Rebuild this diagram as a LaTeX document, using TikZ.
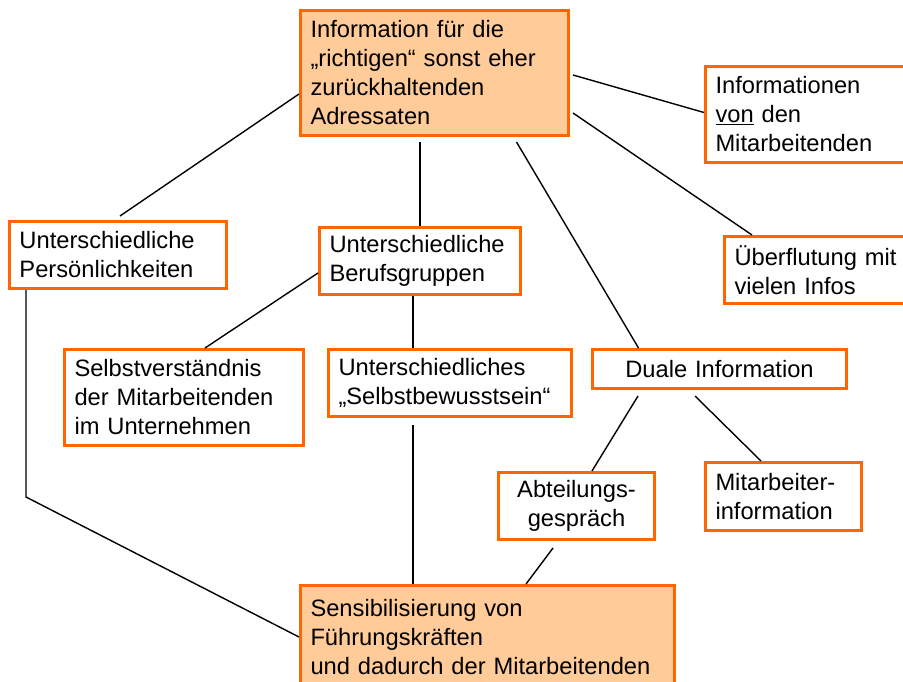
\documentclass[tikz,border=0pt]{standalone}
\usepackage{tikz}
\usepackage{fontspec}
\setmainfont{Liberation Sans}
\definecolor{boxline}{HTML}{FF6600}
\definecolor{boxfill}{HTML}{FFCC99}

\begin{document}
\begin{tikzpicture}[x=1pt, y=-1pt, line width=1.4pt,
    box/.style={draw=boxline, line width=3pt, fill=white, anchor=north west,
      inner xsep=10pt, inner ysep=4pt, align=left,
      font=\fontsize{23.7}{29}\selectfont},
    hot/.style={box, fill=boxfill}]
    \useasboundingbox (0,0) rectangle (903,682);
    \node (info) [hot, text width=248pt, minimum height=125pt] at (299,9)
      {Information für die\\„richtigen“ sonst eher\\zurückhaltenden\\Adressaten};
    \node (von) [box, text width=183pt, minimum height=96pt] at (704,65)
      {Informationen\\\underline{von} den\\Mitarbeitenden};
    \node (flut) [box, text width=164pt, minimum height=67pt] at (723,235)
      {Überflutung mit\\vielen Infos};
    \node (pers) [box, text width=197pt, minimum height=67pt] at (8,220)
      {Unterschiedliche\\Persönlichkeiten};
    \node (beruf) [box, text width=181pt, minimum height=67pt] at (318,226)
      {Unterschiedliche\\Berufsgruppen};
    \node (selbstv) [box, text width=219pt, minimum height=96pt] at (63,348)
      {Selbstverständnis\\der Mitarbeitenden\\im Unternehmen};
    \node (selbstb) [box, text width=223pt, minimum height=67pt] at (327,348)
      {Unterschiedliches\\„Selbstbewusstsein“};
    \node (dual) [box, align=center, text width=234pt, minimum height=39pt] at (591,348)
      {Duale Information};
    \node (abt) [box, align=center, text width=136pt, minimum height=67pt] at (497,471)
      {Abteilungs-\\gespräch};
    \node (mit) [box, text width=136pt, minimum height=68pt] at (704,461)
      {Mitarbeiter-\\information};
    \node (sens) [hot, text width=354pt, minimum height=103pt] at (299,584)
      {Sensibilisierung von\\Führungskräften\\und dadurch der Mitarbeitenden};
    \draw ([yshift=-21pt]info.west) -- ([xshift=2pt,yshift=4pt]pers.north);
    \draw [shorten <=5pt] (beruf.north |- info.south) -- (beruf.north);
    \draw ([xshift=82pt,yshift=-5pt]info.south) -- ([xshift=-81pt]dual.north);
    \draw ([xshift=3pt,yshift=-2pt]info.east) -- ([yshift=2pt]von.west);
    \draw ([xshift=3pt,yshift=-40pt]info.east) -- ([xshift=29pt]flut.north west);
    \draw ([yshift=-12pt]beruf.west) -- ([xshift=21pt]selbstv.north);
    \draw ([xshift=-7pt]beruf.south) -- ([xshift=-7pt]beruf.south |- selbstb.north);
    \draw ([xshift=-37pt,yshift=-7pt]selbstb.south) -- ([xshift=-37pt]selbstb.south |- sens.north);
    \draw ([xshift=18pt]pers.south west) -- ++(0,207) -- (sens.west);
    \draw ([xshift=-81.5pt,yshift=-6pt]dual.south) -- ([xshift=15.5pt]abt.north);
    \draw ([xshift=-24.5pt,yshift=-6pt]dual.south) -- ([xshift=-22.5pt]mit.north);
    \draw ([xshift=-23.5pt,yshift=-7pt]abt.south) -- ([xshift=38.5pt]sens.north);
  \end{tikzpicture}
\end{document}
